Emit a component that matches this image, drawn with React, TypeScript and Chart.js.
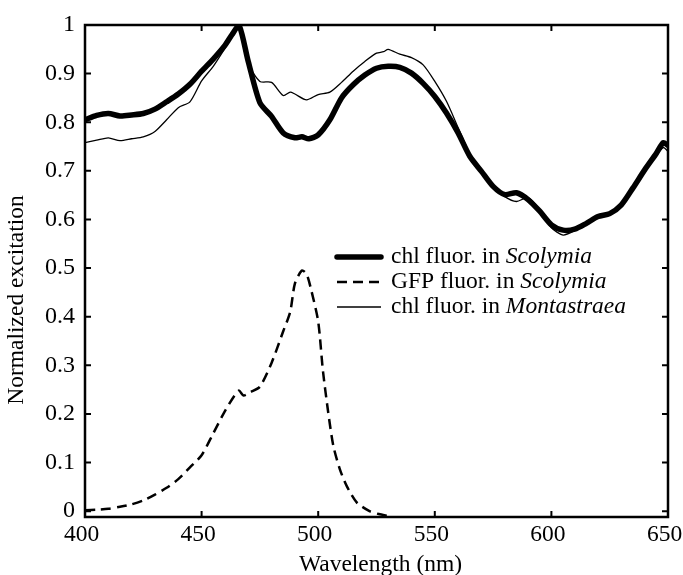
import React, { useEffect, useRef } from "react";
import { Chart, registerables } from "chart.js";

Chart.register(...registerables);

// ---- Data ----
const scolyWl = [400, 405, 410, 415, 420, 425, 430, 435, 440, 445, 450, 455, 460, 463, 466, 470, 475, 480, 485, 490, 493, 496, 500, 505, 510, 515, 520, 525, 530, 535, 540, 545, 550, 555, 560, 565, 570, 575, 580, 585, 590, 595, 600, 605, 610, 615, 620, 625, 630, 635, 640, 645, 648, 650];
const scolyChl = [0.805, 0.814, 0.818, 0.813, 0.815, 0.818, 0.827, 0.842, 0.858, 0.878, 0.905, 0.93, 0.958, 0.98, 1.0, 0.925, 0.84, 0.812, 0.778, 0.768, 0.77, 0.766, 0.774, 0.805, 0.85, 0.877, 0.897, 0.911, 0.915, 0.913, 0.901, 0.88, 0.853, 0.819, 0.778, 0.73, 0.699, 0.668, 0.651, 0.655, 0.641, 0.617, 0.589, 0.578, 0.58, 0.592, 0.606, 0.612, 0.63, 0.665, 0.702, 0.736, 0.758, 0.752];

const montWl = [400, 405, 410, 415, 420, 425, 430, 435, 440, 445, 450, 455, 460, 463, 466, 470, 475, 480, 485, 488, 490, 495, 500, 505, 510, 515, 520, 525, 528, 530, 535, 540, 545, 550, 555, 560, 565, 570, 575, 580, 585, 590, 595, 600, 605, 610, 615, 620, 625, 630, 635, 640, 645, 648, 650];
const montChl = [0.758, 0.763, 0.768, 0.762, 0.766, 0.77, 0.781, 0.805, 0.83, 0.842, 0.885, 0.915, 0.952, 0.975, 1.0, 0.921, 0.884, 0.882, 0.855, 0.862, 0.858, 0.846, 0.857, 0.862, 0.882, 0.905, 0.925, 0.942, 0.945, 0.95, 0.94, 0.933, 0.918, 0.884, 0.843, 0.789, 0.735, 0.699, 0.668, 0.647, 0.637, 0.645, 0.62, 0.583, 0.568, 0.577, 0.592, 0.605, 0.61, 0.628, 0.662, 0.7, 0.732, 0.748, 0.74];

const gfpWl = [400, 405, 410, 415, 420, 425, 430, 435, 440, 445, 450, 455, 460, 464, 466, 468, 471, 475, 480, 485, 488, 490, 493, 495, 497, 500, 502, 504.3, 506.5, 509.3, 512.2, 516.5, 522, 526, 530];
const gfpVal = [0.002, 0.003, 0.005, 0.009, 0.014, 0.022, 0.034, 0.048, 0.066, 0.09, 0.115, 0.16, 0.206, 0.237, 0.248, 0.238, 0.245, 0.256, 0.305, 0.37, 0.41, 0.468, 0.495, 0.488, 0.455, 0.39, 0.29, 0.203, 0.134, 0.086, 0.052, 0.018, 0.0, -0.006, -0.01];

const xTicks = [400, 450, 500, 550, 600, 650];
const yTicks = [0, 0.1, 0.2, 0.3, 0.4, 0.5, 0.6, 0.7, 0.8, 0.9, 1];

const legendPrefix = ["chl fluor. in ", "GFP fluor. in ", "chl fluor. in "];
const legendSpecies = ["Scolymia", "Scolymia", "Montastraea"];

const xTitle = "Wavelength (nm)";
const yTitle = "Normalized excitation";

const FONT = "'Liberation Serif', 'Times New Roman', serif";

const toPts = (xs: number[], ys: number[]) => xs.map((x, i) => ({ x, y: ys[i] }));

const framePlugin = {
  id: "frameTicks",
  afterDraw(chart: any) {
    const { ctx, chartArea } = chart;
    const { left, right, top, bottom } = chartArea;
    const xs = chart.scales.x;
    const ys = chart.scales.y;
    ctx.save();
    ctx.strokeStyle = "#000";
    ctx.lineWidth = 2.5;
    ctx.strokeRect(left, top, right - left, bottom - top);
    const tl = 6;
    ctx.lineWidth = 2;
    ctx.beginPath();
    xTicks.forEach((v) => {
      if (v === xTicks[0] || v === xTicks[xTicks.length - 1]) return;
      const px = xs.getPixelForValue(v);
      ctx.moveTo(px, bottom);
      ctx.lineTo(px, bottom - tl);
      ctx.moveTo(px, top);
      ctx.lineTo(px, top + tl);
    });
    yTicks.forEach((v) => {
      if (v === 1) return;
      const py = ys.getPixelForValue(v);
      ctx.moveTo(left, py);
      ctx.lineTo(left + tl, py);
      ctx.moveTo(right, py);
      ctx.lineTo(right - tl, py);
    });
    ctx.stroke();

    ctx.fillStyle = "#000";
    // x tick labels
    ctx.textAlign = "center";
    ctx.textBaseline = "middle";
    ctx.font = `23.5px ${FONT}`;
    xTicks.forEach((v) => {
      ctx.fillText(String(v), xs.getPixelForValue(v) - 3.5, bottom + 18);
    });

    // axis titles
    ctx.font = `23.5px ${FONT}`;
    ctx.fillText(xTitle, (left + right) / 2 + 4, 565);
    ctx.save();
    ctx.translate(17, 300);
    ctx.rotate(-Math.PI / 2);
    ctx.fillText(yTitle, 0, 0);
    ctx.restore();

    // legend
    const lx0 = 337;
    const lx1 = 381;
    const tx = 391;
    const rows = [257, 282, 307];
    const widths = [5.5, 2.5, 1.3];
    const dashes: number[][] = [[], [10, 6], []];
    rows.forEach((ry, i) => {
      ctx.beginPath();
      ctx.lineWidth = widths[i];
      ctx.setLineDash(dashes[i]);
      ctx.lineCap = i === 0 ? "round" : "butt";
      ctx.moveTo(lx0, ry);
      ctx.lineTo(lx1, ry);
      ctx.stroke();
      ctx.setLineDash([]);
      ctx.textBaseline = "middle";
      ctx.textAlign = "left";
      ctx.font = `23.5px ${FONT}`;
      ctx.fillText(legendPrefix[i], tx, ry);
      const w = ctx.measureText(legendPrefix[i]).width;
      ctx.font = `italic 23.5px ${FONT}`;
      ctx.fillText(legendSpecies[i], tx + w, ry);
    });
    ctx.restore();
  },
};

export default function App() {
  const ref = useRef<HTMLCanvasElement | null>(null);
  useEffect(() => {
    document.body.style.margin = "0";
    const canvas = ref.current!;
    const chart = new Chart(canvas, {
      type: "line",
      data: {
        datasets: [
          {
            label: "chl fluor. in Scolymia",
            data: toPts(scolyWl, scolyChl),
            borderColor: "#000",
            borderWidth: 5.5,
            pointRadius: 0,
            tension: 0.25,
            fill: false,
          },
          {
            label: "GFP fluor. in Scolymia",
            data: toPts(gfpWl, gfpVal),
            borderColor: "#000",
            borderWidth: 2.5,
            borderDash: [10, 6],
            pointRadius: 0,
            tension: 0.25,
            fill: false,
          },
          {
            label: "chl fluor. in Montastraea",
            data: toPts(montWl, montChl),
            borderColor: "#000",
            borderWidth: 1.3,
            pointRadius: 0,
            tension: 0.25,
            fill: false,
          },
        ],
      },
      options: {
        animation: false,
        responsive: false,
        maintainAspectRatio: false,
        layout: { padding: { top: 25, right: 15, left: 0, bottom: 0 } },
        plugins: { legend: { display: false }, tooltip: { enabled: false } },
        scales: {
          x: {
            type: "linear",
            min: 400,
            max: 650,
            grid: { display: false, drawTicks: false },
            border: { display: false },
            afterBuildTicks: (s: any) => {
              s.ticks = xTicks.map((v) => ({ value: v }));
            },
            afterFit: (s: any) => {
              s.height = 58;
              s.paddingLeft = 0;
              s.paddingRight = 0;
            },
            ticks: { display: false },
          },
          y: {
            type: "linear",
            min: -0.012,
            max: 1,
            grid: { display: false, drawTicks: false },
            border: { display: false },
            afterBuildTicks: (s: any) => {
              s.ticks = yTicks.map((v) => ({ value: v }));
            },
            afterFit: (s: any) => {
              s.width = 85;
              s.paddingTop = 0;
              s.paddingBottom = 0;
            },
            ticks: {
              color: "#000",
              padding: 10,
              font: { family: FONT, size: 24 },
              callback: (v: any) => String(Math.round(v * 10) / 10),
            },
          },
        },
      },
      plugins: [framePlugin],
    });
    return () => chart.destroy();
  }, []);
  return (
    <div style={{ position: "absolute", left: 0, top: 0, width: 683, height: 575, background: "#fff" }}>
      <canvas ref={ref} width={683} height={575} style={{ width: 683, height: 575 }} />
    </div>
  );
}
